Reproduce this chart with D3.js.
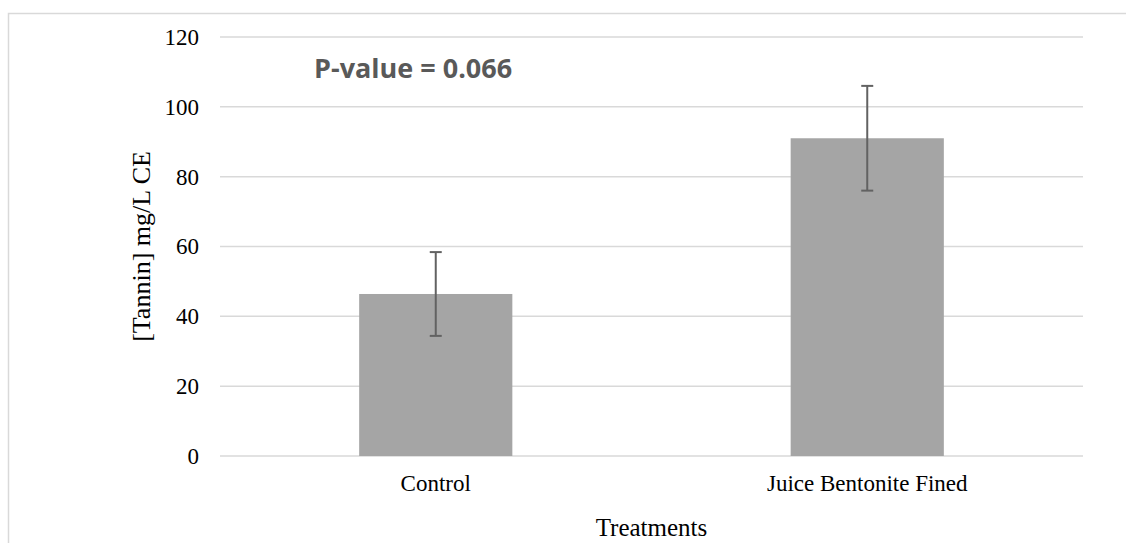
<!DOCTYPE html>
<html>
<head>
<meta charset="utf-8">
<script src="https://cdn.jsdelivr.net/npm/d3@7"></script>
<style>
  body { margin: 0; background: #fff; }
  svg { display: block; }
</style>
</head>
<body>
<svg id="chart"></svg>
<script>
// data
const treatments = ['Control', 'Juice Bentonite Fined'];
const tannin = [46.4, 91.0];
const tanninErr = [12.0, 15.0];
const yTicks = [0, 20, 40, 60, 80, 100, 120];

const width = 1126, height = 543;
const margin = {top: 37, right: 43, bottom: 87, left: 220};
const serif = '"Liberation Serif", "Times New Roman", serif';

const svg = d3.select('#chart')
    .attr('width', width)
    .attr('height', height);

// outer chart frame (right and bottom edges fall off the picture)
svg.append('rect')
    .attr('x', 8.5).attr('y', 13.5)
    .attr('width', width).attr('height', height)
    .attr('fill', 'none')
    .attr('stroke', '#d9d9d9')
    .attr('stroke-width', 1.5);

const innerW = width - margin.left - margin.right;
const innerH = height - margin.top - margin.bottom;

const chart = svg.append('g')
    .attr('transform', `translate(${margin.left}, ${margin.top})`);

const x = d3.scaleBand()
    .domain(treatments)
    .range([0, innerW])
    .paddingInner(0.645)
    .paddingOuter(0.3225);

const y = d3.scaleLinear()
    .domain([0, 120])
    .range([innerH, 0]);

// gridlines
chart.append('g')
    .selectAll('line')
    .data(yTicks)
    .join('line')
    .attr('x1', 0).attr('x2', innerW)
    .attr('y1', d => y(d)).attr('y2', d => y(d))
    .attr('stroke', '#d9d9d9')
    .attr('stroke-width', 1.5);

// y axis labels
const yAxis = d3.axisLeft(y).tickValues(yTicks).tickSize(0).tickPadding(21);
chart.append('g')
    .call(yAxis)
    .call(g => g.select('.domain').remove())
    .selectAll('text')
    .attr('font-family', serif)
    .attr('font-size', '23px')
    .attr('fill', '#000');

// bars
chart.selectAll('rect.bar')
    .data(treatments)
    .join('rect')
    .attr('class', 'bar')
    .attr('x', d => x(d))
    .attr('width', x.bandwidth())
    .attr('y', (d, i) => y(tannin[i]))
    .attr('height', (d, i) => innerH - y(tannin[i]))
    .attr('fill', '#a5a5a5');

// error bars
const err = chart.append('g')
    .attr('stroke', '#626262')
    .attr('stroke-width', 2);
treatments.forEach((t, i) => {
    const cx = x(t) + x.bandwidth() / 2;
    const hi = y(tannin[i] + tanninErr[i]);
    const lo = y(tannin[i] - tanninErr[i]);
    err.append('line').attr('x1', cx).attr('x2', cx).attr('y1', hi).attr('y2', lo);
    err.append('line').attr('x1', cx - 6).attr('x2', cx + 6).attr('y1', hi).attr('y2', hi);
    err.append('line').attr('x1', cx - 6).attr('x2', cx + 6).attr('y1', lo).attr('y2', lo);
});

// x axis labels
const xAxis = d3.axisBottom(x).tickSize(0).tickPadding(19);
chart.append('g')
    .attr('transform', `translate(0, ${innerH})`)
    .call(xAxis)
    .call(g => g.select('.domain').remove())
    .selectAll('text')
    .attr('font-family', serif)
    .attr('font-size', '23px')
    .attr('fill', '#000');

// axis titles
svg.append('text')
    .attr('x', margin.left + innerW / 2)
    .attr('y', 536)
    .attr('text-anchor', 'middle')
    .attr('font-family', serif)
    .attr('font-size', '25px')
    .text('Treatments');

svg.append('text')
    .attr('transform', `translate(150, ${margin.top + innerH / 2}) rotate(-90)`)
    .attr('text-anchor', 'middle')
    .attr('font-family', serif)
    .attr('font-size', '26px')
    .text('[Tannin] mg/L CE');

// p-value annotation
svg.append('text')
    .attr('x', 314)
    .attr('y', 78)
    .attr('font-family', '"Open Sans", "Liberation Sans", sans-serif')
    .attr('font-weight', 'bold')
    .attr('font-size', '27px')
    .attr('fill', '#595959')
    .text('P-value = 0.066');
</script>
</body>
</html>
